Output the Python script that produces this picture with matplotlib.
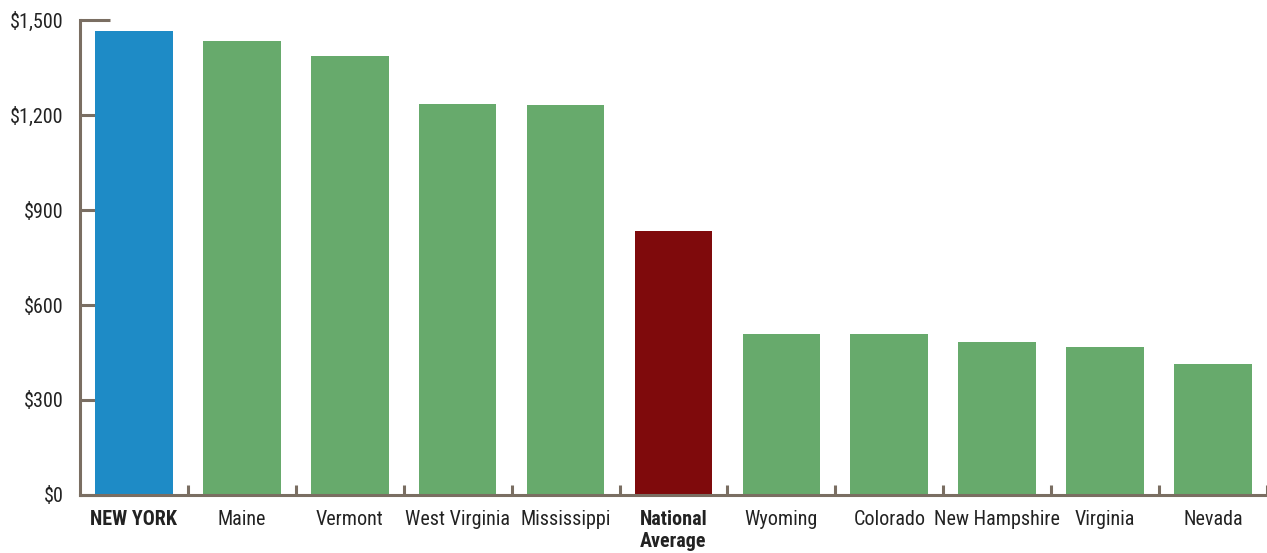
import matplotlib.pyplot as plt
import numpy as np

states = ["NEW YORK", "Maine", "Vermont", "West Virginia", "Mississippi",
          "National\nAverage", "Wyoming", "Colorado", "New Hampshire",
          "Virginia", "Nevada"]
costs = [1465, 1434, 1386, 1235, 1231, 834, 508, 508, 483, 467, 414]
bold_labels = ["NEW YORK", "National\nAverage"]

yticks = [0, 300, 600, 900, 1200, 1500]
ytick_labels = ["$0", "$300", "$600", "$900", "$1,200", "$1,500"]

blue = "#1e8bc6"
green = "#67aa6c"
darkred = "#7f0a0c"
axis_col = "#7a6e62"

plt.rcParams["font.family"] = ["Roboto Condensed", "DejaVu Sans"]

colors = []
for s in states:
    if s == "NEW YORK":
        colors.append(blue)
    elif s.startswith("National"):
        colors.append(darkred)
    else:
        colors.append(green)

fig = plt.figure(figsize=(12.67, 5.53), dpi=100)
ax = fig.add_axes([0.0631, 0.1049, 0.9369, 0.8589])
ax.set_axisbelow(True)

x = np.arange(len(states)) + 0.5
ax.bar(x, costs, width=0.72, color=colors, zorder=1)

ax.set_xlim(0, len(states))
ax.set_ylim(0, 1500)

for side in ["top", "right"]:
    ax.spines[side].set_visible(False)
for side in ["left", "bottom"]:
    ax.spines[side].set_color(axis_col)
    ax.spines[side].set_linewidth(2.2)
    ax.spines[side].set_zorder(3)

ax.set_yticks(yticks)
ax.set_yticklabels(ytick_labels, fontsize=14.5, color="#222222")
ax.tick_params(axis="y", direction="in", length=21.6, width=2.2,
               color=axis_col, pad=12)

ax.set_xticks(x)
ax.set_xticklabels(states, fontsize=14.5, color="#222222", va="top")
ax.set_xticks(np.arange(1, len(states) + 1), minor=True)
ax.tick_params(axis="x", which="major", length=0, pad=11)
ax.tick_params(axis="x", which="minor", direction="in", length=7.2,
               width=2.2, color=axis_col)
for lbl in ax.get_xticklabels():
    if lbl.get_text() in bold_labels:
        lbl.set_fontweight("bold")
    lbl.set_linespacing(1.2)

fig.savefig("out.png", dpi=100)
